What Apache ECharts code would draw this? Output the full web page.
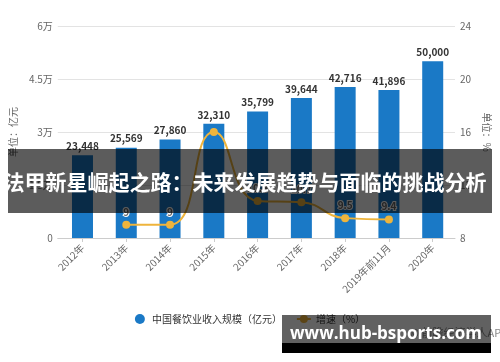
<!DOCTYPE html>
<html><head><meta charset="utf-8">
<script src="https://cdn.jsdelivr.net/npm/echarts@6/dist/echarts.min.js"></script>
<style>html,body{margin:0;padding:0;background:#fff}#c{width:500px;height:362px}</style>
</head><body><div id="c"></div>
<script>
const categories = ['2012年','2013年','2014年','2015年','2016年','2017年','2018年','2019年前11月','2020年'];
const revenue = [23448, 25569, 27860, 32310, 35799, 39644, 42716, 41896, 50000];
const growth = [null, 9, 9, 16, 10.8, 10.7, 9.5, 9.4, null];
const leftTickValues = [0, 15000, 30000, 45000, 60000];
const leftTickLabels = ['0', '1.5万', '3万', '4.5万', '6万'];
const rightTickLabels = ['8', '12', '16', '20', '24'];
const seriesNames = ['中国餐饮业收入规模（亿元）', '增速（%）'];
const hiddenGrowthLabels = ['2015年'];

const FONT = '"Noto Sans CJK SC", "Noto Sans", sans-serif';
const chart = echarts.init(document.getElementById('c'), null, {renderer: 'canvas'});
const lineData = growth.map((v, i) => ({value: v, label: {show: hiddenGrowthLabels.indexOf(categories[i]) < 0}}));

chart.setOption({
  animation: false,
  textStyle: {fontFamily: FONT},
  grid: [
    {left: 53, right: 38, top: 26, bottom: 124},
    {left: 60.6, right: 45.4, top: 26, bottom: 124}
  ],
  legend: {
    top: 309, left: 'center', itemWidth: 14, itemHeight: 10, itemGap: 14,
    textStyle: {fontSize: 10, color: '#333', fontFamily: FONT},
    data: [{name: seriesNames[0], icon: 'circle'}, {name: seriesNames[1]}]
  },
  xAxis: [
    {type: 'category', gridIndex: 0, data: categories, axisLine: {lineStyle: {color: '#cccccc'}},
     axisTick: {show: false}, axisLabel: {show: false}},
    {type: 'category', gridIndex: 1, data: categories, axisLine: {show: false},
     axisTick: {show: true, alignWithLabel: true, length: 4, lineStyle: {color: '#cccccc'}},
     axisLabel: {rotate: 45, fontSize: 10, color: '#666', margin: 8, interval: 0}}
  ],
  yAxis: [
    {type: 'value', gridIndex: 0, position: 'left', min: 0, max: 60000, interval: 15000,
     name: '单位：亿元', nameLocation: 'middle', nameGap: 34, nameRotate: 90,
     nameTextStyle: {fontSize: 10, color: '#666'},
     axisLine: {show: false}, axisTick: {show: false},
     axisLabel: {fontSize: 10, color: '#666', margin: 5,
       formatter: v => leftTickLabels[leftTickValues.indexOf(v)]},
     splitLine: {lineStyle: {color: '#e3e3e3'}}},
    {type: 'value', gridIndex: 0, position: 'right', min: 8, max: 24, interval: 4,
     name: '单位：%', nameLocation: 'middle', nameGap: 23, nameRotate: -90,
     nameTextStyle: {fontSize: 10, color: '#666'},
     axisLine: {show: false}, axisTick: {show: false},
     axisLabel: {fontSize: 10, color: '#666', margin: 5,
       formatter: (v) => rightTickLabels[(v - 8) / 4]},
     splitLine: {show: false}},
    {type: 'value', gridIndex: 1, min: 0, max: 60000, interval: 15000, show: false},
    {type: 'value', gridIndex: 1, position: 'right', min: 8, max: 24, interval: 4, show: false}
  ],
  series: [
    {name: seriesNames[0], type: 'bar', xAxisIndex: 1, yAxisIndex: 2, data: revenue,
     barWidth: 21, itemStyle: {color: '#1a79c6'},
     label: {show: true, position: 'top', distance: 4, fontSize: 10, fontWeight: 'bold', color: '#333',
       formatter: p => p.value.toLocaleString('en-US')}},
    {name: seriesNames[1], type: 'line', xAxisIndex: 1, yAxisIndex: 3, data: lineData,
     smooth: true, symbol: 'circle', symbolSize: 8,
     itemStyle: {color: '#eeb43c'}, lineStyle: {color: '#eeb43c', width: 2},
     label: {show: true, position: 'top', distance: 4, fontSize: 10, fontWeight: 'bold', color: '#666',
       textBorderColor: '#fff', textBorderWidth: 2}}
  ],
  graphic: [
    {type: 'rect', z: 100, shape: {x: 8, y: 149, width: 484, height: 64}, style: {fill: 'rgba(0,0,0,0.64)'}},
    {type: 'text', z: 101, x: 245, y: 182, style: {text: '法甲新星崛起之路：未来发展趋势与面临的挑战分析',
      fill: '#fff', font: 'bold 21px "Noto Sans CJK SC", sans-serif', align: 'center', verticalAlign: 'middle'}},
    {type: 'text', z: 99, x: 410, y: 333, style: {text: '© 前瞻经济学人APP', fill: '#888',
      font: '11px "Noto Sans CJK SC", sans-serif', verticalAlign: 'middle'}},
    {type: 'rect', z: 100, shape: {x: 282, y: 315, width: 209, height: 28}, style: {fill: 'rgba(0,0,0,0.62)'}},
    {type: 'rect', z: 100, shape: {x: 282, y: 343, width: 209, height: 10}, style: {fill: '#000'}},
    {type: 'text', z: 101, x: 386, y: 334, style: {text: 'www.hub-bsports.com', fill: '#fff',
      font: 'bold 17px "Open Sans", "DejaVu Sans", sans-serif', align: 'center', verticalAlign: 'middle'}}
  ]
});
</script></body></html>
